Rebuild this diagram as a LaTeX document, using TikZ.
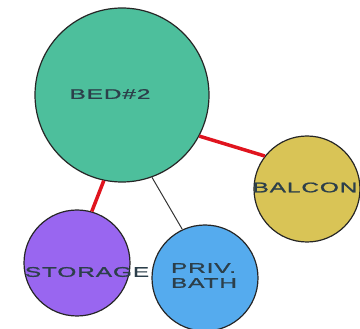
\documentclass[tikz,border=0pt]{standalone}
\usepackage{fontspec}
\newfontfamily\roomfont[FakeStretch=1.75,LetterSpace=6,FakeBold=1.2]{Liberation Sans}
\usetikzlibrary{positioning}
\definecolor{bedgreen}{HTML}{4DBF9C}
\definecolor{balcyellow}{HTML}{D9C456}
\definecolor{storpurple}{HTML}{9966F0}
\definecolor{bathblue}{HTML}{55ABEE}
\definecolor{roomtext}{HTML}{2C3F4A}
\definecolor{linkred}{HTML}{E0141E}

\begin{document}
\begin{tikzpicture}[x=1pt,y=-1pt,
  room/.style={circle,draw=black!85,line width=1.2pt,inner sep=0pt},
  roomname/.style={text=roomtext,font=\roomfont\fontsize{14}{15}\selectfont,inner sep=0pt,align=left},
  strong/.style={draw=linkred,line width=3.5pt},
  weak/.style={draw=black!80,line width=1pt}]
            \useasboundingbox (0,0) rectangle (360,329);
            \node[room,fill=bedgreen,minimum size=174pt] (bed) at (122,95) {};
            \node[room,fill=balcyellow,minimum size=106pt] (balcony) at (307,189) {};
            \node[room,fill=storpurple,minimum size=106pt] (storage) at (77,263) {};
            \node[room,fill=bathblue,minimum size=106pt] (bath) at (205,278) {};
            \path
            (bed.-28) edge [strong] (balcony.142)
            (bed.-102) edge [strong] (storage.74)
            (bed.-70) edge [weak] (bath.115);
            \node[roomname] (bed_t) at (110,94) {BED\#2};
            \node[roomname] (balcony_t) at (305,187.5) {BALCON};
            \node[roomname] (storage_t) at (87,272) {STORAGE};
            \node[roomname] (bath_t) at (204,275.5) {PRIV.\\BATH};
        \end{tikzpicture}
\end{document}
